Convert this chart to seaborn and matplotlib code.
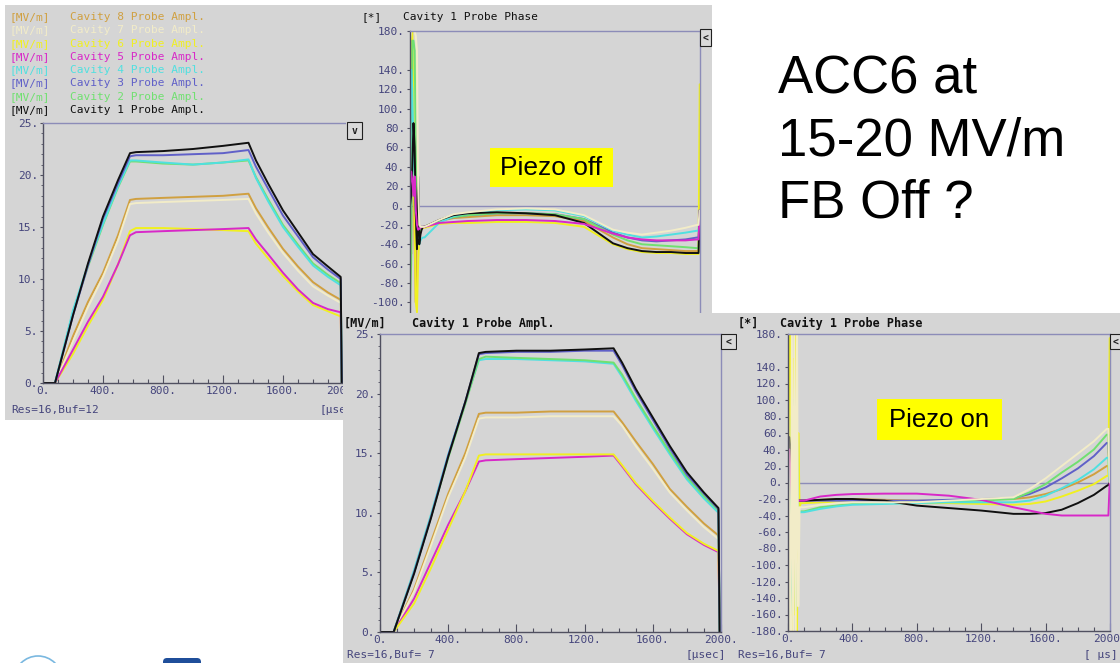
import numpy as np
import pandas as pd
import matplotlib
matplotlib.use('Agg')
import matplotlib.pyplot as plt
from matplotlib.patches import Rectangle, Circle, FancyBboxPatch
from matplotlib.transforms import Bbox, TransformedBbox
import seaborn as sns

W, H = 1120, 663

# cavity names and trace colours (as in the DOOCS legend)
cavities = ['Cavity 1', 'Cavity 2', 'Cavity 3', 'Cavity 4',
            'Cavity 5', 'Cavity 6', 'Cavity 7', 'Cavity 8']
cav_colors = ['#101010', '#70e070', '#6060c8', '#50e0e0',
              '#d828c8', '#f0f020', '#f2ecc8', '#d0a040']

# ---- amplitude traces [MV/m] -------------------------------------------
t_amp = [0, 80, 200, 300, 400, 500, 580, 620, 800, 1000, 1200, 1370,
         1420, 1500, 1600, 1700, 1800, 1900, 1985, 1992]

# piezo off (top left)
amp_off_1 = [0, 0, 6.5, 11.5, 16.0, 19.5, 22.1, 22.2, 22.3, 22.5, 22.8, 23.1, 21.4, 19.2, 16.6, 14.5, 12.4, 11.2, 10.2, 0]
amp_off_2 = [0, 0, 6.8, 11.2, 15.2, 18.8, 21.3, 21.3, 21.1, 21.0, 21.2, 21.4, 19.8, 17.7, 15.2, 13.3, 11.5, 10.4, 9.6, 0]
amp_off_3 = [0, 0, 6.5, 11.3, 15.8, 19.2, 21.8, 21.9, 21.9, 22.0, 22.1, 22.4, 20.8, 18.7, 16.1, 14.1, 12.1, 10.9, 10.0, 0]
amp_off_4 = [0, 0, 7.0, 11.4, 15.3, 18.9, 21.4, 21.4, 21.2, 21.0, 21.2, 21.5, 19.7, 17.5, 15.0, 13.1, 11.3, 10.2, 9.4, 0]
amp_off_5 = [0, 0, 3.2, 5.9, 8.3, 11.4, 14.2, 14.5, 14.6, 14.7, 14.8, 14.9, 13.8, 12.4, 10.6, 9.0, 7.7, 7.1, 6.8, 0]
amp_off_6 = [0, 0, 2.8, 5.5, 8.0, 11.4, 14.6, 14.9, 14.9, 14.8, 14.7, 14.6, 13.4, 12.0, 10.3, 8.8, 7.5, 6.9, 6.4, 0]
amp_off_7 = [0, 0, 4.0, 7.3, 10.2, 13.7, 17.2, 17.3, 17.4, 17.5, 17.6, 17.7, 16.3, 14.5, 12.5, 10.8, 9.3, 8.4, 7.7, 0]
amp_off_8 = [0, 0, 4.5, 7.8, 10.6, 14.2, 17.6, 17.7, 17.8, 17.9, 18.0, 18.2, 16.8, 15.0, 12.9, 11.2, 9.7, 8.7, 8.0, 0]

# piezo on (bottom middle)
amp_on_1 = [0, 0, 4.9, 9.6, 14.7, 19.3, 23.4, 23.5, 23.6, 23.6, 23.7, 23.8, 22.6, 20.4, 18.0, 15.6, 13.4, 11.7, 10.4, 0]
amp_on_2 = [0, 0, 5.0, 9.7, 14.6, 19.1, 22.9, 23.1, 23.0, 22.9, 22.8, 22.6, 21.6, 19.6, 17.3, 15.1, 13.0, 11.4, 10.2, 0]
amp_on_3 = [0, 0, 5.0, 9.7, 14.8, 19.3, 23.3, 23.4, 23.5, 23.5, 23.6, 23.6, 22.4, 20.2, 17.8, 15.4, 13.2, 11.6, 10.3, 0]
amp_on_4 = [0, 0, 5.2, 9.9, 14.9, 19.3, 22.8, 22.9, 22.9, 22.8, 22.7, 22.5, 21.4, 19.4, 17.1, 14.9, 12.8, 11.2, 10.0, 0]
amp_on_5 = [0, 0, 2.8, 5.9, 9.0, 11.8, 14.3, 14.4, 14.5, 14.6, 14.7, 14.8, 13.9, 12.4, 10.9, 9.5, 8.2, 7.3, 6.7, 0]
amp_on_6 = [0, 0, 2.4, 5.4, 8.6, 11.8, 14.8, 14.9, 14.9, 14.9, 14.9, 14.9, 14.0, 12.5, 11.0, 9.6, 8.3, 7.4, 6.8, 0]
amp_on_7 = [0, 0, 3.4, 7.3, 11.3, 14.6, 17.9, 18.0, 18.0, 18.1, 18.1, 18.1, 17.3, 15.6, 13.7, 11.7, 10.2, 8.8, 7.8, 0]
amp_on_8 = [0, 0, 3.6, 7.6, 11.6, 15.0, 18.3, 18.4, 18.4, 18.5, 18.5, 18.5, 17.6, 16.0, 14.1, 12.0, 10.5, 9.1, 8.1, 0]

# ---- phase traces [deg] ---------------------------------------------------
t_ph = [0, 8, 16, 24, 32, 40, 48, 56, 64, 72, 80, 90,
        100, 200, 300, 400, 600, 800, 1000, 1200, 1400, 1500, 1600,
        1700, 1800, 1900, 1980, 1990, 1998]

# piezo off (top right)
ph_off_1 = [0, 10, 40, 85, 60, -10, -45, 30, -40, -30, -25, -22,
            -22, -15, -10, -8, -7, -8, -10, -18, -39, -44, -47, -48, -48, -49, -49, -49, -5]
ph_off_2 = [-100, -60, 170, 170, 160, 60, -20, -40, -30, -25, -23, -22,
            -22, -16, -12, -10, -8, -8, -9, -14, -30, -36, -40, -41, -42, -43, -44, -44, -5]
ph_off_3 = [0, 20, 60, 70, 40, 10, -20, -30, -25, -22, -22, -22,
            -22, -16, -12, -10, -8, -8, -9, -14, -28, -33, -36, -37, -36, -35, -33, -33, -5]
ph_off_4 = [10, 140, 120, 60, 20, -10, -20, -35, -40, -36, -34, -33,
            -33, -18, -11, -8, -5, -4, -5, -11, -26, -30, -33, -32, -30, -28, -26, -26, -5]
ph_off_5 = [20, 35, 25, 10, 30, -5, -20, -25, -24, -23, -22, -22,
            -22, -18, -17, -16, -15, -15, -16, -19, -29, -33, -35, -36, -36, -36, -35, -35, -5]
ph_off_6 = [0, 180, 180, 100, -20, -100, -110, -60, -30, -25, -24, -23,
            -23, -19, -18, -18, -17, -17, -18, -22, -40, -45, -48, -49, -49, -50, -50, -50, 125]
ph_off_7 = [170, 180, 180, 180, 180, 175, 160, 20, -20, -22, -22, -22,
            -22, -15, -9, -7, -4, -3, -4, -10, -25, -28, -30, -28, -26, -23, -20, -20, -5]
ph_off_8 = [-20, -50, 100, 40, -40, -100, 0, -20, -22, -22, -22, -22,
            -22, -16, -13, -12, -10, -10, -11, -16, -33, -40, -44, -45, -46, -47, -47, -47, 0]

# piezo on (bottom right)
ph_on_1 = [30, 55, 40, 0, -20, 10, -40, -20, -22, -22, -22, -22,
           -22, -21, -20, -20, -22, -28, -31, -34, -38, -38, -37, -33, -25, -15, -4, -3, 0]
ph_on_2 = [-180, -100, -160, 80, 100, 100, -155, 60, -40, -36, -35, -35,
           -35, -30, -28, -26, -25, -24, -23, -22, -20, -12, -2, 12, 25, 40, 58, 58, 0]
ph_on_3 = [0, 30, -20, 10, -10, 20, -30, -20, -22, -22, -22, -22,
           -22, -22, -22, -22, -22, -22, -21, -20, -19, -14, -6, 5, 17, 32, 48, 48, 0]
ph_on_4 = [20, -120, -160, 40, -60, 80, -40, -36, -36, -36, -36, -36,
           -36, -32, -29, -27, -26, -25, -24, -24, -24, -22, -16, -7, 3, 16, 30, 30, 0]
ph_on_5 = [20, 40, 10, -20, 0, -10, -25, -22, -22, -22, -22, -22,
           -22, -17, -15, -14, -13.5, -13.5, -16, -21, -30, -34, -38, -40, -40, -40, -40, -40, 0]
ph_on_6 = [-180, 180, 180, -180, 150, -160, 180, -180, 60, -30, -25, -25,
           -25, -24, -24, -24, -25, -25, -25, -26, -27, -26, -23, -17, -10, -2, 8, 8, 175]
ph_on_7 = [120, -60, -180, 180, -180, 180, -180, 180, -150, -30, -30, -30,
           -30, -27, -25, -24, -24, -24, -22, -20, -18, -8, 5, 20, 35, 50, 65, 65, 0]
ph_on_8 = [0, 20, -40, 60, -90, 55, -60, 20, -22, -22, -22, -22,
           -22, -21, -20, -20, -21, -22, -22, -20, -20, -18, -14, -8, 0, 10, 20, 20, 0]

amp_ticks = [0, 5, 10, 15, 20, 25]
# the scope skips the 160 label; the top right panel only shows down to -100
ph_ticks_full = [-180, -160, -140, -120, -100, -80, -60, -40, -20, 0,
                 20, 40, 60, 80, 100, 120, 140, 180]
ph_ticks_top = [-100, -80, -60, -40, -20, 0, 20, 40, 60, 80, 100, 120, 140, 180]
time_ticks = [0, 400, 800, 1200, 1600, 2000]

BG = '#d5d5d5'
AXIS_DARK = '#505060'
FRAME = '#8c8cb8'
LABEL = '#45457c'

sns.set_theme(style='ticks')
plt.rcParams['font.family'] = ['DejaVu Sans Mono']


def frame(df_list, t, names):
    rows = []
    for name, vals in zip(names, df_list):
        rows.append(pd.DataFrame({'t': t, 'v': vals, 'cav': name}))
    return pd.concat(rows, ignore_index=True)


def fig_rect(x0, y0, x1, y1):
    return [x0 / W, 1 - y1 / H, (x1 - x0) / W, (y1 - y0) / H]


def layer(z):
    a = fig.add_axes([0, 0, 1, 1])
    a.set_xlim(0, W)
    a.set_ylim(H, 0)
    a.set_axis_off()
    a.set_zorder(z)
    return a


def button(a, x0, y0, x1, y1, s):
    a.add_patch(Rectangle((x0, y0), x1 - x0, y1 - y0, fc='#d9d9d9', ec='#202020', lw=0.8))
    a.text((x0 + x1) / 2, (y0 + y1) / 2 + 0.5, s, ha='center', va='center',
           fontsize=7, fontweight='bold', color='#202020')


def plot_panel(k, box, plot_box, df, order, xlim, ylim, yticks, minor_y=None):
    base = layer(10 * k)
    base.add_patch(Rectangle((box[0], box[1]), box[2] - box[0], box[3] - box[1],
                             fc=BG, ec='none'))
    ax = fig.add_axes(fig_rect(*plot_box))
    ax.set_zorder(10 * k + 1)
    ax.set_facecolor(BG)
    sns.lineplot(data=df, x='t', y='v', hue='cav', hue_order=order,
                 palette=dict(zip(cavities, cav_colors)), estimator=None,
                 sort=False, legend=False, lw=1.4, ax=ax)
    ax.set_xlim(*xlim)
    ax.set_ylim(*ylim)
    ax.set_xlabel('')
    ax.set_ylabel('')
    ax.set_xticks(time_ticks, [f'{v}.' for v in time_ticks])
    ax.set_xticks(range(0, 2001, 100), minor=True)
    ax.set_yticks(yticks, [f'{v}.' for v in yticks])
    if minor_y is not None:
        ax.set_yticks(minor_y, minor=True)
    else:
        ax.set_yticks([], minor=True)
    ax.tick_params(axis='x', which='major', direction='in', length=6, width=0.8,
                   color=AXIS_DARK, labelsize=8, labelcolor=LABEL, pad=2)
    ax.tick_params(axis='x', which='minor', direction='in', length=3, width=0.8,
                   color=AXIS_DARK)
    ax.tick_params(axis='y', which='major', direction='out', length=2.5, width=0.8,
                   color=AXIS_DARK, labelsize=8, labelcolor=LABEL, pad=1)
    ax.tick_params(axis='y', which='minor', direction='out', length=1.5, width=0.6,
                   color=AXIS_DARK)
    for s in ['left', 'bottom']:
        ax.spines[s].set_color(AXIS_DARK)
        ax.spines[s].set_linewidth(1.0)
    for s in ['top', 'right']:
        ax.spines[s].set_color(FRAME)
        ax.spines[s].set_linewidth(1.0)
    # tick labels stay inside their own screenshot
    clip = TransformedBbox(Bbox.from_extents(box[0] / W, 1 - box[3] / H,
                                             box[2] / W, 1 - box[1] / H),
                           fig.transFigure)
    for lbl in ax.get_xticklabels() + ax.get_yticklabels():
        lbl.set_clip_box(clip)
        lbl.set_clip_on(True)
    top = layer(10 * k + 2)
    return ax, top


fig = plt.figure(figsize=(W / 100, H / 100), dpi=100)
fig.patch.set_facecolor('white')

order_amp = ['Cavity 8', 'Cavity 7', 'Cavity 6', 'Cavity 5',
             'Cavity 2', 'Cavity 4', 'Cavity 3', 'Cavity 1']
order_ph = ['Cavity 8', 'Cavity 6', 'Cavity 3', 'Cavity 2',
            'Cavity 4', 'Cavity 1', 'Cavity 5', 'Cavity 7']

# ---- panel 1: amplitude, piezo off --------------------------------------
df1 = frame([amp_off_1, amp_off_2, amp_off_3, amp_off_4,
             amp_off_5, amp_off_6, amp_off_7, amp_off_8], t_amp, cavities)
ax1, top1 = plot_panel(1, (5, 5, 346, 420), (43, 123, 347, 383), df1, order_amp,
                       (0, 2027), (0, 25), amp_ticks, minor_y=list(range(0, 26)))
for i, k in enumerate(range(8, 0, -1)):
    y = 17 + i * 13.3
    top1.text(9, y, '[MV/m]', color=cav_colors[k - 1], fontsize=8, va='center')
    top1.text(70, y, f'Cavity {k} Probe Ampl.', color=cav_colors[k - 1], fontsize=8, va='center')
top1.text(11, 410, 'Res=16,Buf=12', color=LABEL, fontsize=8, va='center')
top1.text(320, 410, '[µse', color=LABEL, fontsize=8, va='center')

# ---- panel 2: phase, piezo off ------------------------------------------
df2 = frame([ph_off_1, ph_off_2, ph_off_3, ph_off_4,
             ph_off_5, ph_off_6, ph_off_7, ph_off_8], t_ph, cavities)
ax2, top2 = plot_panel(2, (346, 5, 712, 330), (410, 31, 700, 380), df2, order_ph,
                       (0, 2000), (-180, 180), ph_ticks_top)
ax2.axhline(0, color=FRAME, lw=1.0, zorder=0.5)
top2.text(361, 17, '[*]', color='#101010', fontsize=8, va='center')
top2.text(403, 17, 'Cavity 1 Probe Phase', color='#101010', fontsize=8, va='center')
button(top2, 347, 122, 362, 139, 'v')
button(top2, 700, 29, 711, 46, '<')
top2.add_patch(Rectangle((490, 148), 123, 39, fc='#ffff00', ec='none'))
top2.text(551.5, 168, 'Piezo off', fontsize=19, family='Liberation Sans',
          ha='center', va='center', color='black')

# ---- panel 3: amplitude, piezo on ---------------------------------------
df3 = frame([amp_on_1, amp_on_2, amp_on_3, amp_on_4,
             amp_on_5, amp_on_6, amp_on_7, amp_on_8], t_amp, cavities)
order_amp_on = ['Cavity 8', 'Cavity 7', 'Cavity 5', 'Cavity 6',
                'Cavity 4', 'Cavity 2', 'Cavity 3', 'Cavity 1']
ax3, top3 = plot_panel(3, (343, 313, 737, 663), (380, 334, 721, 632), df3, order_amp_on,
                       (0, 2000), (0, 25), amp_ticks, minor_y=list(range(0, 26)))
top3.text(344, 323, '[MV/m]', color='#101010', fontsize=8.5, fontweight='bold', va='center')
top3.text(412, 323, 'Cavity 1 Probe Ampl.', color='#101010', fontsize=8.5,
          fontweight='bold', va='center')
top3.text(347, 655, 'Res=16,Buf= 7', color=LABEL, fontsize=8, va='center')
top3.text(686, 655, '[µsec]', color=LABEL, fontsize=8, va='center')
button(top3, 721, 334, 736, 349, '<')

# ---- panel 4: phase, piezo on -------------------------------------------
df4 = frame([ph_on_1, ph_on_2, ph_on_3, ph_on_4,
             ph_on_5, ph_on_6, ph_on_7, ph_on_8], t_ph, cavities)
ax4, top4 = plot_panel(4, (737, 313, 1120, 663), (788, 334, 1110, 631), df4, order_ph,
                       (0, 2000), (-180, 180), ph_ticks_full)
ax4.axhline(0, color=FRAME, lw=1.0, zorder=0.5)
top4.text(738, 323, '[*]', color='#101010', fontsize=8.5, fontweight='bold', va='center')
top4.text(780, 323, 'Cavity 1 Probe Phase', color='#101010', fontsize=8.5,
          fontweight='bold', va='center')
top4.text(738, 655, 'Res=16,Buf= 7', color=LABEL, fontsize=8, va='center')
top4.text(1084, 655, '[ µs]', color=LABEL, fontsize=8, va='center')
button(top4, 1110, 334, 1122, 349, '<')
top4.add_patch(Rectangle((877, 399), 125, 41, fc='#ffff00', ec='none'))
top4.text(939.5, 420, 'Piezo on', fontsize=18.5, family='Liberation Sans',
          ha='center', va='center', color='black')

# ---- slide text and logo fragments ---------------------------------------
slide = layer(100)
for y, s in zip([93, 156, 218], ['ACC6 at', '15-20 MV/m', 'FB Off ?']):
    slide.text(778, y, s, fontsize=38, family='Liberation Sans', va='baseline',
               color='black')
slide.add_patch(Circle((38, 680), 24, fc='none', ec='#7ab8e0', lw=1.2, clip_on=False))
slide.add_patch(FancyBboxPatch((163, 658), 38, 20, boxstyle='round,pad=0,rounding_size=4',
                               fc='#1f4e9a', ec='none', clip_on=False))

fig.savefig('out.png', dpi=100)
